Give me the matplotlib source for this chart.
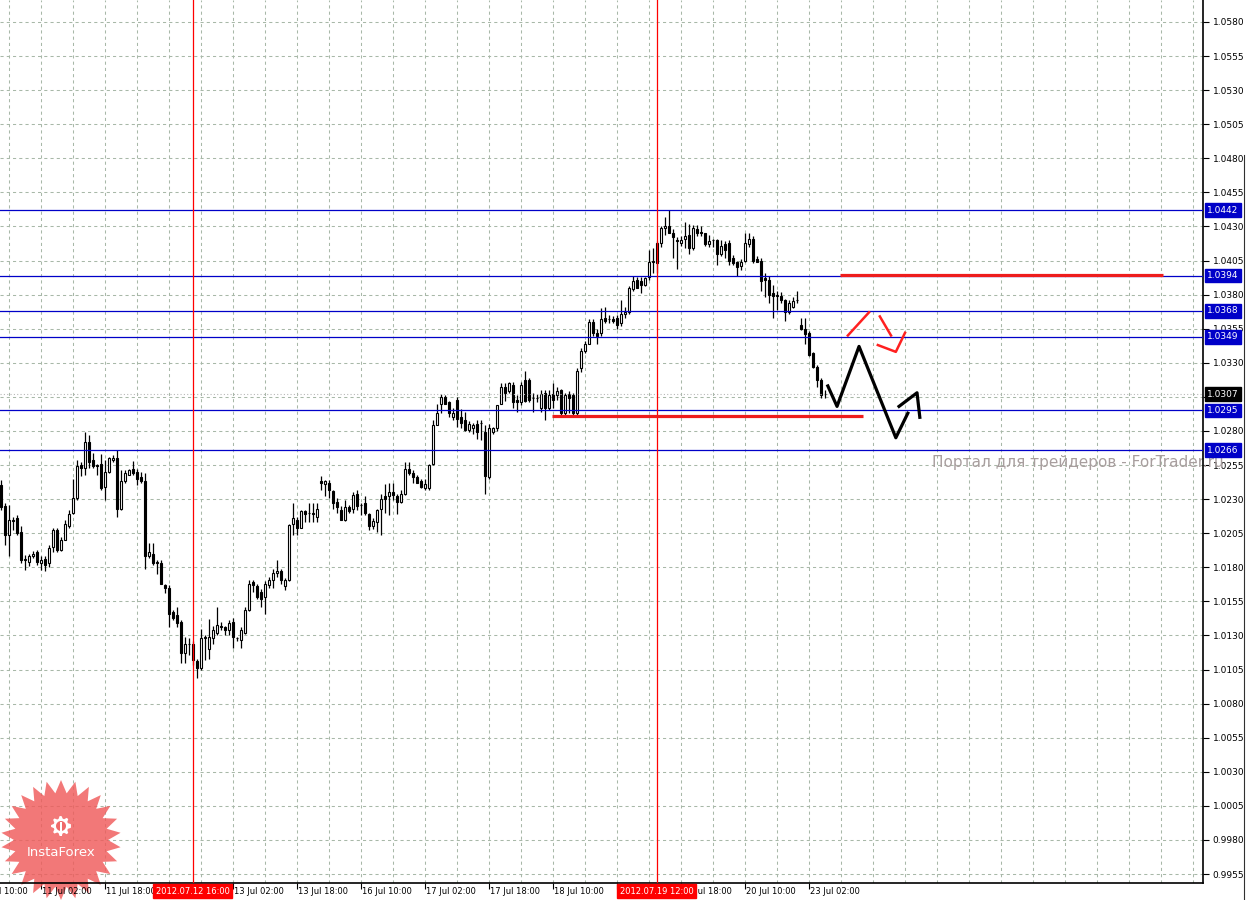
import matplotlib
matplotlib.use("Agg")
import matplotlib.pyplot as plt
import matplotlib.transforms as mtransforms
from matplotlib.patches import Polygon
from matplotlib.lines import Line2D
import numpy as np

# EURCHF-style H1 bars, 10 Jul 16:00 .. 23 Jul 06:00 (bar index = hours of trading)
opens = [
    1.0240, 1.0225, 1.0204, 1.0214, 1.0216, 1.0206, 1.0185, 1.0184, 1.0188, 1.0191,
    1.0183, 1.0186, 1.0183, 1.0195, 1.0207, 1.0193, 1.0200, 1.0210, 1.0220, 1.0231,
    1.0255, 1.0253, 1.0272, 1.0259, 1.0255, 1.0256, 1.0239, 1.0250, 1.0259, 1.0260,
    1.0223, 1.0243, 1.0248, 1.0252, 1.0250, 1.0246, 1.0243, 1.0188, 1.0190, 1.0184,
    1.0183, 1.0167, 1.0165, 1.0147, 1.0145, 1.0140, 1.0117, 1.0124, 1.0124, 1.0111,
    1.0106, 1.0128, 1.0120, 1.0128, 1.0132, 1.0137, 1.0136, 1.0134, 1.0140, 1.0128,
    1.0127, 1.0132, 1.0149, 1.0169, 1.0166, 1.0162, 1.0158, 1.0167, 1.0171, 1.0176,
    1.0177, 1.0166, 1.0171, 1.0212, 1.0215, 1.0209, 1.0221, 1.0220, 1.0220, 1.0217,
    1.0243, 1.0241, 1.0242, 1.0236, 1.0228, 1.0222, 1.0215, 1.0224, 1.0223, 1.0234,
    1.0226, 1.0227, 1.0219, 1.0210, 1.0213, 1.0223, 1.0232, 1.0232, 1.0235, 1.0232,
    1.0228, 1.0234, 1.0252, 1.0249, 1.0246, 1.0243, 1.0238, 1.0238, 1.0256, 1.0284,
    1.0300, 1.0305, 1.0301, 1.0290, 1.0303, 1.0290, 1.0288, 1.0281, 1.0282, 1.0285,
    1.0286, 1.0279, 1.0246, 1.0279, 1.0282, 1.0300, 1.0312, 1.0309, 1.0314, 1.0303,
    1.0301, 1.0317, 1.0317, 1.0304, 1.0304, 1.0297, 1.0308, 1.0297, 1.0307, 1.0306,
    1.0310, 1.0293, 1.0307, 1.0306, 1.0293, 1.0326, 1.0339, 1.0344, 1.0360, 1.0352,
    1.0352, 1.0363, 1.0362, 1.0362, 1.0363, 1.0359, 1.0366, 1.0367, 1.0384, 1.0391,
    1.0390, 1.0387, 1.0393, 1.0404, 1.0403, 1.0418, 1.0429, 1.0430, 1.0425, 1.0420,
    1.0418, 1.0421, 1.0424, 1.0414, 1.0428, 1.0426, 1.0425, 1.0417, 1.0420, 1.0420,
    1.0410, 1.0417, 1.0418, 1.0407, 1.0404, 1.0401, 1.0405, 1.0417, 1.0421, 1.0406,
    1.0405, 1.0392, 1.0391, 1.0381, 1.0379, 1.0379, 1.0376, 1.0367, 1.0371, 1.0376,
    1.0358, 1.0355, 1.0352, 1.0337, 1.0327, 1.0317, 1.0307,
]
highs = [
    1.0244, 1.0227, 1.0226, 1.0217, 1.0218, 1.0210, 1.0189, 1.0190, 1.0192, 1.0193,
    1.0188, 1.0188, 1.0196, 1.0209, 1.0209, 1.0202, 1.0215, 1.0222, 1.0245, 1.0259,
    1.0257, 1.0279, 1.0277, 1.0264, 1.0256, 1.0263, 1.0259, 1.0261, 1.0262, 1.0266,
    1.0251, 1.0251, 1.0252, 1.0258, 1.0252, 1.0250, 1.0249, 1.0198, 1.0198, 1.0185,
    1.0185, 1.0168, 1.0167, 1.0149, 1.0151, 1.0141, 1.0129, 1.0128, 1.0126, 1.0113,
    1.0135, 1.0130, 1.0142, 1.0137, 1.0151, 1.0140, 1.0137, 1.0141, 1.0143, 1.0129,
    1.0136, 1.0151, 1.0171, 1.0171, 1.0168, 1.0164, 1.0170, 1.0173, 1.0179, 1.0185,
    1.0179, 1.0172, 1.0212, 1.0227, 1.0217, 1.0222, 1.0222, 1.0227, 1.0227, 1.0227,
    1.0247, 1.0244, 1.0244, 1.0237, 1.0231, 1.0225, 1.0229, 1.0226, 1.0235, 1.0237,
    1.0227, 1.0232, 1.0220, 1.0216, 1.0223, 1.0234, 1.0241, 1.0242, 1.0242, 1.0234,
    1.0237, 1.0257, 1.0257, 1.0251, 1.0248, 1.0245, 1.0245, 1.0256, 1.0288, 1.0300,
    1.0307, 1.0306, 1.0302, 1.0297, 1.0305, 1.0296, 1.0294, 1.0287, 1.0286, 1.0288,
    1.0288, 1.0284, 1.0285, 1.0283, 1.0299, 1.0315, 1.0315, 1.0316, 1.0316, 1.0306,
    1.0316, 1.0324, 1.0319, 1.0308, 1.0307, 1.0310, 1.0310, 1.0310, 1.0315, 1.0312,
    1.0311, 1.0308, 1.0309, 1.0308, 1.0326, 1.0341, 1.0346, 1.0362, 1.0362, 1.0355,
    1.0370, 1.0371, 1.0365, 1.0364, 1.0365, 1.0376, 1.0371, 1.0386, 1.0394, 1.0393,
    1.0393, 1.0393, 1.0413, 1.0414, 1.0419, 1.0430, 1.0437, 1.0442, 1.0428, 1.0422,
    1.0423, 1.0433, 1.0432, 1.0431, 1.0431, 1.0430, 1.0425, 1.0424, 1.0421, 1.0421,
    1.0420, 1.0419, 1.0420, 1.0409, 1.0405, 1.0406, 1.0425, 1.0425, 1.0423, 1.0408,
    1.0407, 1.0396, 1.0394, 1.0387, 1.0383, 1.0382, 1.0377, 1.0376, 1.0378, 1.0383,
    1.0363, 1.0363, 1.0353, 1.0338, 1.0328, 1.0319, 1.0310,
]
lows = [
    1.0222, 1.0196, 1.0188, 1.0207, 1.0204, 1.0183, 1.0178, 1.0181, 1.0187, 1.0182,
    1.0178, 1.0177, 1.0180, 1.0191, 1.0191, 1.0192, 1.0200, 1.0209, 1.0219, 1.0229,
    1.0247, 1.0248, 1.0253, 1.0253, 1.0248, 1.0237, 1.0229, 1.0249, 1.0257, 1.0217,
    1.0222, 1.0242, 1.0248, 1.0248, 1.0240, 1.0242, 1.0179, 1.0187, 1.0182, 1.0175,
    1.0168, 1.0161, 1.0136, 1.0141, 1.0136, 1.0110, 1.0110, 1.0116, 1.0108, 1.0099,
    1.0105, 1.0112, 1.0113, 1.0124, 1.0130, 1.0134, 1.0130, 1.0130, 1.0121, 1.0126,
    1.0121, 1.0131, 1.0148, 1.0162, 1.0157, 1.0151, 1.0146, 1.0165, 1.0165, 1.0173,
    1.0168, 1.0163, 1.0170, 1.0204, 1.0204, 1.0209, 1.0213, 1.0213, 1.0213, 1.0213,
    1.0237, 1.0232, 1.0231, 1.0223, 1.0220, 1.0215, 1.0214, 1.0220, 1.0220, 1.0222,
    1.0218, 1.0218, 1.0207, 1.0208, 1.0206, 1.0204, 1.0220, 1.0218, 1.0229, 1.0219,
    1.0227, 1.0233, 1.0248, 1.0242, 1.0242, 1.0238, 1.0237, 1.0237, 1.0255, 1.0284,
    1.0293, 1.0300, 1.0290, 1.0288, 1.0283, 1.0282, 1.0280, 1.0279, 1.0278, 1.0274,
    1.0273, 1.0234, 1.0245, 1.0278, 1.0280, 1.0300, 1.0302, 1.0308, 1.0297, 1.0294,
    1.0299, 1.0301, 1.0301, 1.0294, 1.0301, 1.0294, 1.0288, 1.0295, 1.0297, 1.0303,
    1.0291, 1.0291, 1.0293, 1.0291, 1.0292, 1.0323, 1.0337, 1.0344, 1.0350, 1.0344,
    1.0350, 1.0359, 1.0359, 1.0359, 1.0355, 1.0357, 1.0363, 1.0366, 1.0383, 1.0385,
    1.0381, 1.0386, 1.0391, 1.0396, 1.0396, 1.0415, 1.0424, 1.0425, 1.0407, 1.0399,
    1.0416, 1.0414, 1.0410, 1.0413, 1.0423, 1.0423, 1.0416, 1.0415, 1.0415, 1.0402,
    1.0408, 1.0407, 1.0402, 1.0402, 1.0394, 1.0398, 1.0404, 1.0415, 1.0403, 1.0404,
    1.0383, 1.0378, 1.0374, 1.0363, 1.0369, 1.0374, 1.0361, 1.0366, 1.0370, 1.0374,
    1.0354, 1.0344, 1.0335, 1.0326, 1.0312, 1.0304, 1.0304,
]
closes = [
    1.0224, 1.0204, 1.0215, 1.0215, 1.0205, 1.0185, 1.0186, 1.0188, 1.0190, 1.0184,
    1.0185, 1.0182, 1.0194, 1.0207, 1.0193, 1.0200, 1.0212, 1.0219, 1.0231, 1.0254,
    1.0253, 1.0272, 1.0257, 1.0254, 1.0254, 1.0238, 1.0250, 1.0260, 1.0260, 1.0223,
    1.0243, 1.0249, 1.0251, 1.0249, 1.0245, 1.0243, 1.0188, 1.0191, 1.0183, 1.0183,
    1.0168, 1.0165, 1.0146, 1.0143, 1.0139, 1.0117, 1.0124, 1.0124, 1.0112, 1.0106,
    1.0128, 1.0129, 1.0129, 1.0134, 1.0138, 1.0136, 1.0134, 1.0139, 1.0129, 1.0128,
    1.0134, 1.0149, 1.0168, 1.0167, 1.0158, 1.0157, 1.0168, 1.0171, 1.0176, 1.0177,
    1.0171, 1.0171, 1.0211, 1.0216, 1.0209, 1.0221, 1.0219, 1.0220, 1.0219, 1.0223,
    1.0242, 1.0243, 1.0237, 1.0227, 1.0224, 1.0215, 1.0224, 1.0221, 1.0233, 1.0225,
    1.0226, 1.0220, 1.0210, 1.0214, 1.0222, 1.0230, 1.0230, 1.0235, 1.0233, 1.0228,
    1.0234, 1.0252, 1.0249, 1.0246, 1.0242, 1.0239, 1.0241, 1.0255, 1.0284, 1.0293,
    1.0305, 1.0300, 1.0293, 1.0293, 1.0289, 1.0286, 1.0281, 1.0285, 1.0284, 1.0279,
    1.0286, 1.0247, 1.0282, 1.0282, 1.0299, 1.0312, 1.0308, 1.0315, 1.0301, 1.0301,
    1.0314, 1.0302, 1.0303, 1.0304, 1.0304, 1.0307, 1.0297, 1.0306, 1.0303, 1.0309,
    1.0293, 1.0306, 1.0304, 1.0293, 1.0324, 1.0339, 1.0344, 1.0360, 1.0352, 1.0350,
    1.0362, 1.0361, 1.0362, 1.0361, 1.0358, 1.0366, 1.0367, 1.0385, 1.0390, 1.0385,
    1.0387, 1.0392, 1.0404, 1.0405, 1.0418, 1.0429, 1.0430, 1.0425, 1.0422, 1.0419,
    1.0420, 1.0423, 1.0414, 1.0429, 1.0425, 1.0425, 1.0417, 1.0419, 1.0420, 1.0410,
    1.0416, 1.0413, 1.0405, 1.0403, 1.0400, 1.0404, 1.0418, 1.0421, 1.0405, 1.0404,
    1.0390, 1.0391, 1.0380, 1.0379, 1.0380, 1.0376, 1.0367, 1.0374, 1.0375, 1.0376,
    1.0355, 1.0351, 1.0336, 1.0327, 1.0317, 1.0306, 1.0307,
]

# time scale: tick marks every 16 bars; two of the labels sit under the red markers
tick_bars = [-6, 10, 26, 42, 58, 74, 90, 106, 122, 138, 154, 170, 186, 202]
tick_texts = ["10 Jul 10:00", "11 Jul 02:00", "11 Jul 18:00", "",
              "13 Jul 02:00", "13 Jul 18:00", "16 Jul 10:00", "17 Jul 02:00",
              "17 Jul 18:00", "18 Jul 10:00", "", "19 Jul 18:00",
              "20 Jul 10:00", "23 Jul 02:00"]

# horizontal levels, current price, vertical markers
levels = [1.0442, 1.0394, 1.0368, 1.0349, 1.0295, 1.0266]
last_price = 1.0307
marker_bars = [48, 164]
marker_texts = ["2012.07.12 16:00", "2012.07.19 12:00"]

# hand-drawn forecast
support_x, support_y = [137.8, 215.6], [1.0291, 1.0291]
resist_x, resist_y = [209.8, 290.6], [1.03945, 1.03945]
path1_x = [206.8, 209.1, 214.6, 223.8, 226.8]
path1_y = [1.0313, 1.0298, 1.0342, 1.0275, 1.0293]
path2_x = [224.6, 229.1, 229.8]
path2_y = [1.0298, 1.0308, 1.0290]
alt1_x, alt1_y = [211.8, 217.1], [1.0350, 1.0367]
alt2_x, alt2_y = [219.8, 222.6], [1.0364, 1.0350]
alt3_x, alt3_y = [219.3, 223.8, 226.1], [1.0343, 1.0338, 1.0352]

W, H = 1247, 900
fig = plt.figure(figsize=(W / 100, H / 100), dpi=100)
fig.patch.set_facecolor("white")
ax = fig.add_axes([0, 17 / H, 1203 / W, 883 / H])
ax.set_axisbelow(True)

grid_col = "#a8b8a8"
yt = np.round(np.arange(0.9955, 1.0581, 0.0025), 4)
ax.set_yticks(yt)
# 1.0305 is hidden behind the current price box
ax.set_yticklabels(["" if abs(v - 1.0305) < 1e-6 else "%.4f" % v for v in yt])
ax.yaxis.tick_right()
ax.tick_params(axis="y", direction="out", length=4, width=0.8, pad=3, labelsize=6.5,
               colors="black")
ax.set_xticks(tick_bars)
ax.set_xticklabels([])
ax.tick_params(axis="x", direction="out", length=4, width=0.8)
# limits after set_xticks, which would otherwise widen the view
ax.set_xlim(-0.175, 300.6)
ax.set_ylim(0.99484, 1.05961)

ax.grid(axis="y", color=grid_col, linestyle=(0, (3, 3)), linewidth=0.75)
for gx in np.arange(2, 301, 8):
    ax.axvline(gx, color=grid_col, linestyle=(0, (3, 3)), linewidth=0.75, zorder=0.6)

for s in ["left", "top"]:
    ax.spines[s].set_visible(False)
ax.spines["right"].set_linewidth(1.2)
ax.spines["bottom"].set_linewidth(1.2)

# candles
idx = np.arange(len(opens))
o = np.array(opens); c = np.array(closes)
ax.vlines(idx, lows, highs, color="black", linewidth=0.9, zorder=2)
bull = c >= o
ax.bar(idx[bull], (c - o)[bull], bottom=o[bull], width=0.55, color="white",
       edgecolor="black", linewidth=0.8, zorder=3)
ax.bar(idx[~bull], (o - c)[~bull], bottom=c[~bull], width=0.55, color="black",
       edgecolor="black", linewidth=0.8, zorder=3)

# levels
blue = "#0000c8"
for lv in levels:
    ax.axhline(lv, color=blue, linewidth=0.9, zorder=4)
ax.axhline(last_price, color="#b8b8b8", linewidth=0.8, linestyle=(0, (1, 2)), zorder=4)

# vertical markers
for b in marker_bars:
    ax.axvline(b, color="#ff0000", linewidth=0.9, zorder=4.5)

# forecast drawings
red = "#ee1c1c"
ax.plot(support_x, support_y, color=red, linewidth=2.3, zorder=5, solid_capstyle="butt")
ax.plot(resist_x, resist_y, color=red, linewidth=2.3, zorder=5, solid_capstyle="butt")
for xs, ys in [(alt1_x, alt1_y), (alt2_x, alt2_y), (alt3_x, alt3_y)]:
    ax.plot(xs, ys, color="#ff2020", linewidth=1.8, zorder=5)
ax.plot(path1_x, path1_y, color="black", linewidth=2.3, zorder=5)
ax.plot(path2_x, path2_y, color="black", linewidth=2.3, zorder=5)

# price boxes on the right scale
ytr = mtransforms.blended_transform_factory(ax.transAxes, ax.transData)
for lv in levels:
    ax.text(1.0035, lv, "%.4f" % lv, transform=ytr, ha="left", va="center", fontsize=6.5,
            color="white", zorder=10, clip_on=False,
            bbox=dict(boxstyle="square,pad=0.25", fc=blue, ec=blue))
ax.text(1.0035, last_price, "%.4f" % last_price, transform=ytr, ha="left", va="center",
        fontsize=6.5, color="white", zorder=10, clip_on=False,
        bbox=dict(boxstyle="square,pad=0.25", fc="black", ec="black"))

# time labels
xtr = mtransforms.blended_transform_factory(ax.transData, fig.transFigure)
for b, t in zip(tick_bars, tick_texts):
    if t:
        ax.text(b + 0.4, 1 - 891 / H, t, transform=xtr, ha="left", va="center",
                fontsize=6, color="black", zorder=9, clip_on=False)
for b, t in zip(marker_bars, marker_texts):
    ax.text(b, 1 - 891 / H, t, transform=xtr, ha="center", va="center", fontsize=6,
            color="white", zorder=9.5, clip_on=False,
            bbox=dict(boxstyle="square,pad=0.3", fc="#ff0000", ec="#ff0000"))

# watermark
ax.text(932 / W, 1 - 462 / H, "Портал для трейдеров - ForTrader.ru", transform=fig.transFigure,
        ha="left", va="center", fontsize=11, color="#a89e9e", zorder=1, clip_on=False)


def px(xs, ys):
    return np.column_stack([np.asarray(xs) / W, 1 - np.asarray(ys) / H])


# InstaForex badge
cx, cy = 61, 840
n = 26
ang = np.linspace(0, 2 * np.pi, 2 * n, endpoint=False) + np.pi / 2
rad = np.where(np.arange(2 * n) % 2 == 0, 60, 47)
star = Polygon(px(cx + rad * np.cos(ang), cy - rad * np.sin(ang)), closed=True,
               transform=fig.transFigure, fc="#f05a5a", ec="none", alpha=0.82,
               zorder=1.6, clip_on=False)
ax.add_patch(star)
gx0, gy0 = 61, 826
ang = np.linspace(0, 2 * np.pi, 33, endpoint=False)
rad = np.where((np.arange(33) // 2) % 2 == 0, 10, 7.5)
ax.add_patch(Polygon(px(gx0 + rad * np.cos(ang), gy0 - rad * np.sin(ang)), closed=True,
                     transform=fig.transFigure, fc="white", ec="none", zorder=8,
                     clip_on=False))
t = np.linspace(0, 2 * np.pi, 40)
ax.add_patch(Polygon(px(gx0 + 5 * np.cos(t), gy0 - 5 * np.sin(t)), closed=True,
                     transform=fig.transFigure, fc="#f06a6a", ec="none", zorder=8.2,
                     clip_on=False))
ax.add_patch(Polygon(px([59.8, 62.2, 62.2, 59.8], [822, 822, 836, 836]), closed=True,
                     transform=fig.transFigure, fc="white", ec="none", zorder=8.4,
                     clip_on=False))
ax.text(cx / W, 1 - 853 / H, "InstaForex", transform=fig.transFigure, ha="center",
        va="center", fontsize=9.5, color="white", zorder=8.5, clip_on=False)

# window border on the far right
fig.add_artist(Line2D([1244 / W, 1244 / W], [0, 1 - 155 / H], transform=fig.transFigure,
                      color="#303030", linewidth=0.8))

fig.savefig("out.png", dpi=100, facecolor="white")
